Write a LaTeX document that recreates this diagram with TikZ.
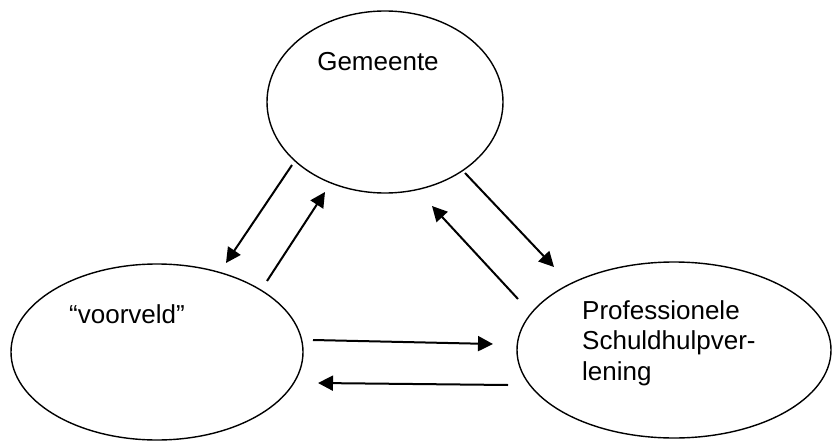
\documentclass[tikz,border=0pt]{standalone}
\usepackage{fontspec}
\setmainfont{Liberation Sans}
\usetikzlibrary{shapes.geometric,arrows.meta}
\begin{document}
\begin{tikzpicture}[x=1pt,y=-1pt,
  oval/.style={draw,ellipse,line width=1.4pt,inner sep=0pt},
  lbl/.style={font=\fontsize{26}{30.5}\selectfont,inner sep=0pt},
  flow/.style={line width=2pt,-{Triangle[length=15pt,width=15pt]}}]
\useasboundingbox (0,0) rectangle (832,441);
\node[oval,minimum width=236pt,minimum height=182pt] (gem) at (385,102) {};
\node[oval,minimum width=292pt,minimum height=176pt] (voor) at (157,352) {};
\node[oval,minimum width=314pt,minimum height=176pt] (prof) at (674,350) {};
\node[lbl,anchor=base] (tgem) at (378,71) {Gemeente};
\node[lbl,anchor=base] (tvoor) at (127,323) {“voorveld”};
\node[lbl,anchor=base west,align=left] (tprof) at (582,380) {Professionele\\Schuldhulpver-\\lening};
% connector end points
\coordinate (a1s) at (292,165); \coordinate (a1e) at (226,263);
\coordinate (a2s) at (267,281); \coordinate (a2e) at (325,192);
\coordinate (a3s) at (465,173); \coordinate (a3e) at (554,267);
\coordinate (a4s) at (518,299); \coordinate (a4e) at (432,206);
\coordinate (a5s) at (313,340); \coordinate (a5e) at (493,344);
\coordinate (a6s) at (508,385); \coordinate (a6e) at (318,383);
\draw[flow] (a1s) -- (a1e);
\draw[flow] (a2s) -- (a2e);
\draw[flow] (a3s) -- (a3e);
\draw[flow] (a4s) -- (a4e);
\draw[flow] (a5s) -- (a5e);
\draw[flow] (a6s) -- (a6e);
\end{tikzpicture}
\end{document}
